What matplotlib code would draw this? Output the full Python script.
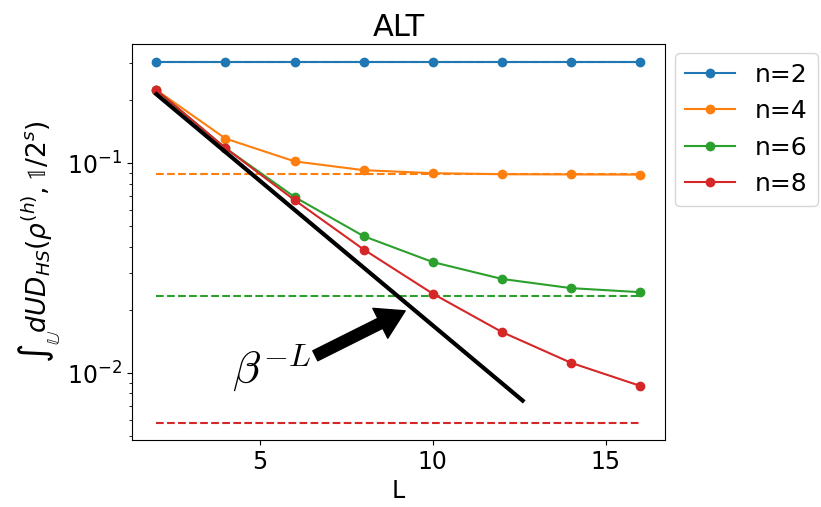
import numpy as np
import matplotlib
matplotlib.use("Agg")
import matplotlib.pyplot as plt

# data
L = [2, 4, 6, 8, 10, 12, 14, 16]
n_labels = ['n=2', 'n=4', 'n=6', 'n=8']
vals_n2 = [0.303, 0.303, 0.303, 0.303, 0.303, 0.303, 0.303, 0.303]
vals_n4 = [0.223, 0.131, 0.102, 0.0926, 0.0896, 0.0886, 0.0884, 0.0882]
vals_n6 = [0.223, 0.118, 0.069, 0.0449, 0.0338, 0.0281, 0.0254, 0.0243]
vals_n8 = [0.223, 0.118, 0.0667, 0.0388, 0.0239, 0.0157, 0.0112, 0.0087]
haar_vals = [0.302, 0.0886, 0.0232, 0.0058]   # dashed asymptotes
beta_L = [2, 12.6]
beta_vals = [0.213, 0.0074]

colors = ['tab:blue', 'tab:orange', 'tab:green', 'tab:red']
series = [vals_n2, vals_n4, vals_n6, vals_n8]

fig, ax = plt.subplots(figsize=(8.21, 5.07), dpi=100)
fig.subplots_adjust(left=0.161, right=0.81, bottom=0.132, top=0.913)

for vals, h, c, lab in zip(series, haar_vals, colors, n_labels):
    ax.hlines(h, L[0], L[-1], colors=c, linestyles='--', linewidth=1.5)
    ax.plot(L, vals, '-o', color=c, label=lab, linewidth=1.5, markersize=6)

ax.plot(beta_L, beta_vals, color='black', linewidth=3)
ax.annotate('', xy=(9.2, 0.0198), xytext=(6.6, 0.0121),
            arrowprops=dict(facecolor='black', width=8, headwidth=24,
                            headlength=20, shrink=0.0))
ax.text(4.2, 0.0089, r'$\beta^{-L}$', fontsize=33, math_fontfamily='cm')

ax.set_yscale('log')
ax.set_xlim(1.3, 16.72)
ax.set_ylim(0.0048, 0.369)
ax.set_xticks([5, 10, 15])
ax.set_title('ALT', fontsize=22)
ax.set_xlabel('L', fontsize=17)
ax.set_ylabel(r'$\int_{\mathbb{U}} dUD_{HS}(\rho^{(h)}, \mathbb{1}/2^s)$', fontsize=19)
ax.tick_params(axis='both', labelsize=17)
ax.legend(loc='upper left', bbox_to_anchor=(0.995, 1.01), fontsize=18)

plt.savefig('out.png')
